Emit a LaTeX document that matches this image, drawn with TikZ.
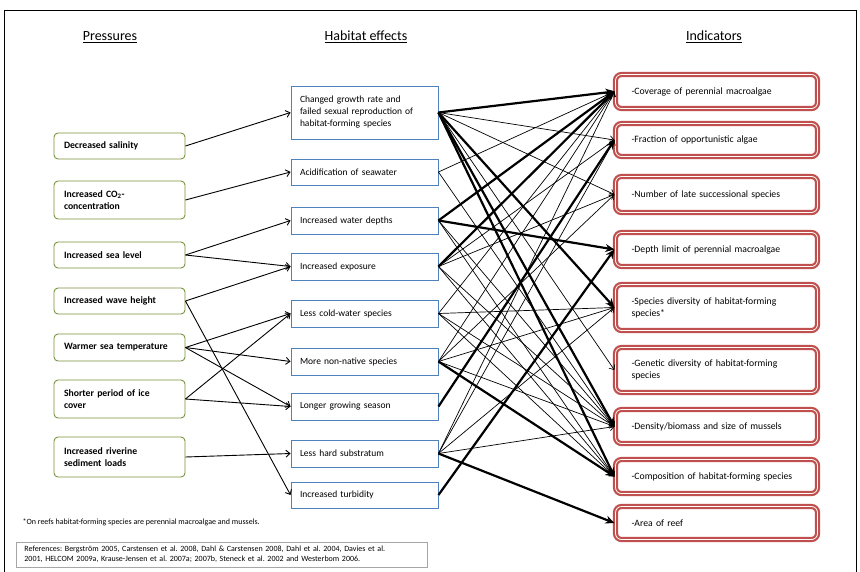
\documentclass[tikz,border=0pt]{standalone}
\usepackage{fontspec}
\setmainfont{Carlito}
\usetikzlibrary{arrows.meta}
\definecolor{presgreen}{HTML}{77933C}
\definecolor{effblue}{HTML}{4F81BD}
\definecolor{indred}{HTML}{C0504D}
\definecolor{refgray}{HTML}{A6A6A6}
\frenchspacing

\begin{document}
\begin{tikzpicture}[x=1pt, y=-1pt,
  pressure/.style={draw=presgreen, line width=0.9pt, rounded corners=4pt, text width=111pt, inner xsep=10pt, inner ysep=0pt, align=left, font=\fontsize{9.7}{12}\selectfont\bfseries},
  effect/.style={draw=effblue, line width=0.9pt, text width=129pt, inner xsep=9pt, inner ysep=0pt, align=left, font=\fontsize{9.5}{12}\selectfont},
  indicator/.style={draw=indred, line width=2.2pt, double=white, double distance=0.8pt, rounded corners=6pt, text width=170pt, inner xsep=16pt, inner ysep=0pt, align=left, font=\fontsize{9.7}{12}\selectfont},
  head/.style={font=\fontsize{14}{16}\selectfont},
  feed/.style={-{Straight Barb[length=4pt,width=7pt]}, line width=0.9pt},
  link/.style={-{Straight Barb[length=4pt,width=7pt]}, line width=0.7pt},
  strong/.style={-{Stealth[length=9pt,width=8pt]}, line width=2.2pt},
]
\useasboundingbox (0,0) rectangle (860,571);
\draw[line width=0.6pt] (4,575) -- (4,10.5) -- (856,10.5) -- (856,575);

% column headings
\node[head] (hP) at (110,37) {\underline{Pressures}};
\node[head] (hH) at (366,37) {\underline{Habitat effects}};
\node[head] (hI) at (714,37) {\underline{Indicators}};

% pressures
\node[pressure, minimum height=26pt] (P1) at (119.5,146) {Decreased salinity};
\node[pressure, minimum height=38pt] (P2) at (119.5,200) {Increased CO\textsubscript{2}-\\concentration};
\node[pressure, minimum height=26pt] (P3) at (119.5,255) {Increased sea level};
\node[pressure, minimum height=26pt] (P4) at (119.5,301) {Increased wave height};
\node[pressure, minimum height=27pt] (P5) at (119.5,347.5) {Warmer sea temperature};
\node[pressure, minimum height=38pt] (P6) at (119.5,399) {Shorter period of ice\\cover};
\node[pressure, minimum height=40pt] (P7) at (119.5,457) {Increased riverine\\sediment loads};

% habitat effects
\node[effect, minimum height=53pt] (H1) at (364.5,112.5) {Changed growth rate and\\failed sexual reproduction of\\habitat-forming species};
\node[effect, minimum height=26pt] (H2) at (364.5,172) {Acidification of seawater};
\node[effect, minimum height=27pt] (H3) at (364.5,220.5) {Increased water depths};
\node[effect, minimum height=27pt] (H4) at (364.5,266.5) {Increased exposure};
\node[effect, minimum height=27pt] (H5) at (364.5,313.5) {Less cold-water species};
\node[effect, minimum height=27pt] (H6) at (364.5,361.5) {More non-native species};
\node[effect, minimum height=27pt] (H7) at (364.5,406.5) {Longer growing season};
\node[effect, minimum height=27pt] (H8) at (364.5,453.5) {Less hard substratum};
\node[effect, minimum height=26pt] (H9) at (364.5,495) {Increased turbidity};

% indicators
\node[indicator, minimum height=34pt] (I1) at (716.5,91.5) {-Coverage of perennial macroalgae};
\node[indicator, minimum height=33pt] (I2) at (716.5,140) {-Fraction of opportunistic algae};
\node[indicator, minimum height=36pt] (I3) at (716.5,194.5) {-Number of late successional species};
\node[indicator, minimum height=34pt] (I4) at (716.5,249.5) {-Depth limit of perennial macroalgae};
\node[indicator, minimum height=46pt] (I5) at (716.5,307.5) {-Species diversity of habitat-forming\\species*};
\node[indicator, minimum height=45pt] (I6) at (716.5,370) {-Genetic diversity of habitat-forming\\species};
\node[indicator, minimum height=34pt] (I7) at (716.5,426.5) {-Density/biomass and size of mussels};
\node[indicator, minimum height=34pt] (I8) at (716.5,476.5) {-Composition of habitat-forming species};
\node[indicator, minimum height=33pt] (I9) at (716.5,523) {-Area of reef};

% pressures -> habitat effects
\draw[feed] (P1.east) -- (H1.west);
\draw[feed] (P2.east) -- (H2.west);
\draw[feed] (P3.east) -- (H3.west);
\draw[feed] (P3.east) -- (H4.west);
\draw[feed] (P4.east) -- (H4.west);
\draw[feed] (P4.east) -- (H9.west);
\draw[feed] (P5.east) -- (H5.west);
\draw[feed] (P5.east) -- (H6.west);
\draw[feed] (P5.east) -- (H7.west);
\draw[feed] (P6.east) -- (H5.west);
\draw[feed] (P6.east) -- (H7.west);
\draw[feed] (P7.east) -- (H8.west);

% habitat effects -> indicators
\draw[strong] (H1.east) -- (I1.west);
\draw[link] (H1.east) -- (I2.west);
\draw[link] (H1.east) -- (I3.west);
\draw[strong] (H1.east) -- (I5.west);
\draw[link] (H1.east) -- (I6.west);
\draw[strong] (H1.east) -- (I7.west);
\draw[strong] (H1.east) -- (I8.west);
\draw[link] (H2.east) -- (I1.west);
\draw[link] (H2.east) -- (I7.west);
\draw[strong] (H3.east) -- (I1.west);
\draw[strong] (H3.east) -- (I4.west);
\draw[link] (H3.east) -- (I7.west);
\draw[link] (H3.east) -- (I8.west);
\draw[strong] (H4.east) -- (I1.west);
\draw[link] (H4.east) -- (I2.west);
\draw[link] (H4.east) -- (I3.west);
\draw[link] (H4.east) -- (I7.west);
\draw[link] (H4.east) -- (I8.west);
\draw[link] (H5.east) -- (I1.west);
\draw[link] (H5.east) -- (I5.west);
\draw[link] (H5.east) -- (I7.west);
\draw[link] (H5.east) -- (I8.west);
\draw[link] (H6.east) -- (I1.west);
\draw[link] (H6.east) -- (I3.west);
\draw[link] (H6.east) -- (I5.west);
\draw[link] (H6.east) -- (I7.west);
\draw[strong] (H6.east) -- (I8.west);
\draw[strong] (H7.east) -- (I2.west);
\draw[link] (H8.east) -- (I1.west);
\draw[link] (H8.east) -- (I2.west);
\draw[link] (H8.east) -- (I5.west);
\draw[link] (H8.east) -- (I7.west);
\draw[strong] (H8.east) -- (I9.west);
\draw[strong] (H9.east) -- (I4.west);

% notes
\node[anchor=west, font=\fontsize{8}{9.5}\selectfont] (note) at (19,522) {*On reefs habitat-forming species are perennial macroalgae and mussels.};
\node[draw=refgray, line width=0.8pt, anchor=north west, text width=395pt, inner xsep=8pt, inner ysep=4pt, align=left, font=\fontsize{8}{10}\selectfont] (refs) at (16,542) {References: Bergström 2005, Carstensen et al. 2008, Dahl \& Carstensen 2008, Dahl et al. 2004, Davies et al.\\2001, HELCOM 2009a, Krause-Jensen et al. 2007a; 2007b, Steneck et al. 2002 and Westerbom 2006.};
\end{tikzpicture}
\end{document}
